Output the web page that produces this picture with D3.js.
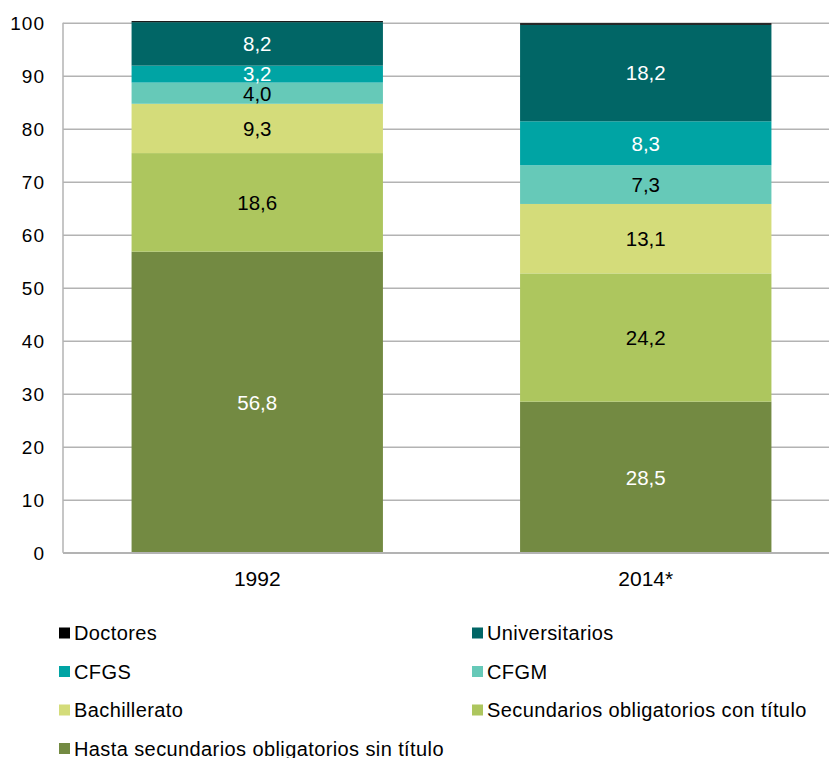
<!DOCTYPE html>
<meta charset="utf-8">
<html>
<head>
<style>
  body { margin: 0; background: #fff; }
  text { font-family: "Liberation Sans", Arial, sans-serif; }
  .grid line { stroke: #b3b3b3; stroke-width: 1.5px; }
  .grid .domain { display: none; }
</style>
</head>
<body>
<svg width="829" height="758"></svg>
<script src="https://d3js.org/d3.v7.min.js"></script>
<script>

// data, bottom to top
var years = ["1992", "2014*"];
var niveles = ["Hasta secundarios obligatorios sin título", "Secundarios obligatorios con título",
               "Bachillerato", "CFGM", "CFGS", "Universitarios", "Doctores"];
var v1992 = [56.8, 18.6, 9.3, 4.0, 3.2, 8.2, 0.2];
var v2014 = [28.5, 24.2, 13.1, 7.3, 8.3, 18.2, 0.3];
var colores = ["#738a42", "#adc65e", "#d4dc7a", "#66c9b8", "#00a4a4", "#016666", "#000000"];
var labelColor = ["#fff", "#000", "#000", "#000", "#fff", "#fff", null];
var yTicks = [0, 10, 20, 30, 40, 50, 60, 70, 80, 90, 100];

var svg = d3.select("svg"),
    margin = {left: 63, top: 22.7, right: 0},
    plotW = 777,
    plotH = 530;

var x = d3.scaleBand().domain(years).range([0, plotW]).paddingInner(0.353).paddingOuter(0.1765);
var y = d3.scaleLinear().domain([0, 100]).range([plotH, 0]);

var g = svg.append("g").attr("transform", "translate(" + margin.left + "," + margin.top + ")");

// gridlines
g.append("g")
    .attr("class", "grid")
    .call(d3.axisLeft(y).tickValues(yTicks).tickSize(-plotW).tickFormat(""));

// y labels
g.selectAll(".ylab")
  .data(yTicks)
  .enter().append("text")
    .attr("x", -18)
    .attr("y", function(d) { return y(d); })
    .attr("dy", "0.38em")
    .attr("text-anchor", "end")
    .attr("font-size", "19px")
    .attr("letter-spacing", "1px")
    .attr("fill", "#000")
    .text(function(d) { return d; });

var series = [v1992, v2014];

series.forEach(function(vals, i) {
  var base = 0;
  vals.forEach(function(v, k) {
    var y0 = base, y1 = base + v;
    g.append("rect")
      .attr("x", x(years[i]))
      .attr("width", x.bandwidth())
      .attr("y", y(y1))
      .attr("height", y(y0) - y(y1))
      .attr("fill", colores[k]);
    if (labelColor[k]) {
      g.append("text")
        .attr("x", x(years[i]) + x.bandwidth() / 2)
        .attr("y", y((y0 + y1) / 2))
        .attr("dy", "0.36em")
        .attr("text-anchor", "middle")
        .attr("font-size", "20.5px")
        .attr("fill", labelColor[k])
        .text(d3.format(".1f")(v).replace(".", ","));
    }
    base = y1;
  });
});

// axis lines
g.append("line").attr("x1", 0).attr("x2", 0).attr("y1", 0).attr("y2", plotH)
  .attr("stroke", "#b3b3b3").attr("stroke-width", 1.5);
g.append("line").attr("x1", 0).attr("x2", plotW).attr("y1", plotH).attr("y2", plotH)
  .attr("stroke", "#b3b3b3").attr("stroke-width", 1.5);

// x labels
g.selectAll(".xlab")
  .data(years)
  .enter().append("text")
    .attr("x", function(d) { return x(d) + x.bandwidth() / 2; })
    .attr("y", plotH + 26)
    .attr("dy", "0.36em")
    .attr("text-anchor", "middle")
    .attr("font-size", "21px")
    .text(function(d) { return d; });

// legend, top series first, two columns
var legendOrder = niveles.map(function(n, k) { return k; }).reverse();
var leg = svg.append("g");
legendOrder.forEach(function(k, j) {
  var col = j % 2, row = Math.floor(j / 2);
  var lx = col === 0 ? 59 : 472, ly = 633 + row * 38.5;
  leg.append("rect")
    .attr("x", lx).attr("y", ly - 5.5)
    .attr("width", 11).attr("height", 11)
    .attr("fill", colores[k]);
  leg.append("text")
    .attr("x", lx + 15).attr("y", ly)
    .attr("dy", "0.36em")
    .attr("font-size", "20px")
    .attr("letter-spacing", "0.4px")
    .text(niveles[k]);
});

</script>
</body>
</html>
